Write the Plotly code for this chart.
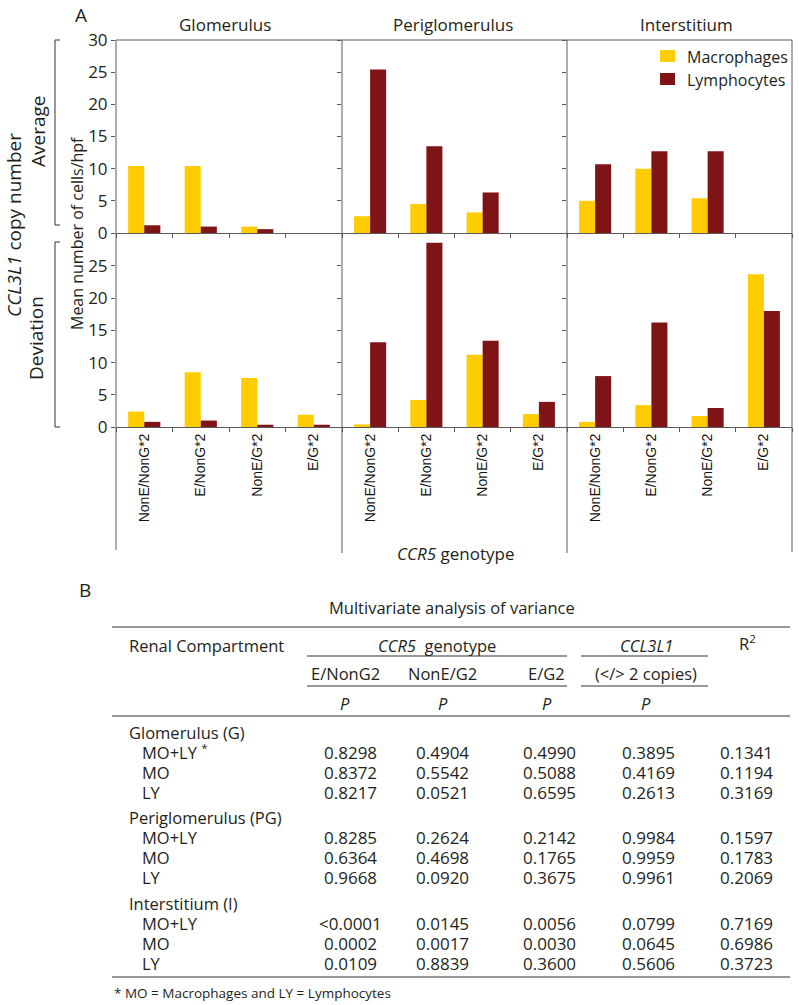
import plotly.graph_objects as go

W, H = 799, 1005

# ---------------- data ----------------
genotypes = ["NonE/NonG*2", "E/NonG*2", "NonE/G*2", "E/G*2"]
compartments = ["Glomerulus", "Periglomerulus", "Interstitium"]
series_names = ["Macrophages", "Lymphocytes"]

# CCL3L1 copy number: Average (top row) -- one list per compartment
avg_macrophages = [
    [10.4, 10.4, 1.0, None],
    [2.6, 4.5, 3.2, None],
    [5.0, 10.0, 5.4, None],
]
avg_lymphocytes = [
    [1.2, 1.0, 0.6, None],
    [25.4, 13.5, 6.3, None],
    [10.7, 12.7, 12.7, None],
]
# CCL3L1 copy number: Deviation (bottom row)
dev_macrophages = [
    [2.4, 8.5, 7.6, 1.9],
    [0.4, 4.2, 11.2, 2.0],
    [0.8, 3.4, 1.7, 23.7],
]
dev_lymphocytes = [
    [0.8, 1.0, 0.35, 0.35],
    [13.15, 28.6, 13.4, 3.9],
    [7.9, 16.2, 2.95, 18.0],
]
y_ticks_top = [0, 5, 10, 15, 20, 25, 30]
y_ticks_bottom = [0, 5, 10, 15, 20, 25]

# Table B
table_row_labels = ["Glomerulus (G)", "MO+LY <sup>*</sup>", "MO", "LY",
                    "Periglomerulus (PG)", "MO+LY", "MO", "LY",
                    "Interstitium (I)", "MO+LY", "MO", "LY"]
col_e_nong2 = ["", "0.8298", "0.8372", "0.8217", "", "0.8285", "0.6364", "0.9668", "", "&lt;0.0001", "0.0002", "0.0109"]
col_none_g2 = ["", "0.4904", "0.5542", "0.0521", "", "0.2624", "0.4698", "0.0920", "", "0.0145", "0.0017", "0.8839"]
col_e_g2 = ["", "0.4990", "0.5088", "0.6595", "", "0.2142", "0.1765", "0.3675", "", "0.0056", "0.0030", "0.3600"]
col_ccl3l1 = ["", "0.3895", "0.4169", "0.2613", "", "0.9984", "0.9959", "0.9961", "", "0.0799", "0.0645", "0.5606"]
col_r2 = ["", "0.1341", "0.1194", "0.3169", "", "0.1597", "0.1783", "0.2069", "", "0.7169", "0.6986", "0.3723"]

# ---------------- styling ----------------
YELLOW = "#FFCC00"
RED = "#7F1416"
INK = "#231F20"
LINE = "#5a5a5a"
FONT = "Open Sans"


def X(px):
    return px / W


def Y(py):
    return 1 - py / H


panel_x = [(116, 342), (342, 567), (567, 792)]
top_y = (40, 233)
bot_y = (233, 427)

fig = go.Figure()
for i, comp in enumerate(compartments):
    for row, (mac, lym) in enumerate([(avg_macrophages, avg_lymphocytes), (dev_macrophages, dev_lymphocytes)]):
        n = i + 1 + 3 * row
        fig.add_trace(go.Bar(x=genotypes, y=mac[i], name=series_names[0], marker=dict(color=YELLOW, line=dict(width=0)),
                             xaxis=f"x{n}", yaxis=f"y{n}", showlegend=False))
        fig.add_trace(go.Bar(x=genotypes, y=lym[i], name=series_names[1], marker=dict(color=RED, line=dict(width=0)),
                             xaxis=f"x{n}", yaxis=f"y{n}", showlegend=False))

layout_axes = {}
for row in range(2):
    for i in range(3):
        n = i + 1 + 3 * row
        key = "" if n == 1 else str(n)
        x0, x1 = panel_x[i]
        yy = top_y if row == 0 else bot_y
        layout_axes["xaxis" + key] = dict(
            domain=[X(x0), X(x1)], anchor="y" + key, type="category", automargin=False,
            categoryorder="array", categoryarray=genotypes, range=[-0.5, 3.5],
            showline=True, linecolor=LINE, linewidth=1, ticks="outside", tickson="boundaries",
            ticklen=4, tickcolor=LINE, showgrid=False, zeroline=False,
            showticklabels=(row == 1), tickangle=-90,
            tickfont=dict(family="Liberation Sans", size=14, color="#111"),
        )
        layout_axes["yaxis" + key] = dict(
            domain=[Y(yy[1]), Y(yy[0])], anchor="x" + key, automargin=False,
            range=[0, 30] if row == 0 else [0, 30.1],
            tickvals=y_ticks_top if row == 0 else y_ticks_bottom,
            showticklabels=(i == 0), ticks="outside", ticklen=4, tickcolor=LINE,
            showline=False, showgrid=False, zeroline=False,
            tickfont=dict(family=FONT, size=17, color=INK),
        )

shapes = []


def hline(x0, x1, y, w=1, color=LINE):
    shapes.append(dict(type="line", xref="paper", yref="paper", x0=X(x0), x1=X(x1), y0=Y(y), y1=Y(y),
                       line=dict(color=color, width=w)))


def vline(x, y0, y1, w=1, color=LINE):
    shapes.append(dict(type="line", xref="paper", yref="paper", x0=X(x), x1=X(x), y0=Y(y0), y1=Y(y1),
                       line=dict(color=color, width=w)))


# chart frame
hline(116, 792, 40)
vline(116, 40, 550)
vline(342, 40, 553)
vline(567, 40, 553)
vline(792, 40, 552)
# brackets
for (b0, b1) in [(40, 225), (242, 427)]:
    vline(55, b0, b1, color="#333")
    hline(55, 60, b0, color="#333")
    hline(55, 60, b1, color="#333")

# table lines
TL = "#333"
hline(112, 790, 627, 1.2, TL)
hline(307, 567, 656, 1.2, TL)
hline(581, 708, 656, 1.2, TL)
hline(307, 567, 686, 1.2, TL)
hline(581, 708, 686, 1.2, TL)
hline(112, 790, 716, 1.2, TL)
hline(112, 790, 977, 1.2, TL)

ann = []


def text(x, y, s, size=16.5, xanchor="center", angle=0, family=FONT, color=INK):
    ann.append(dict(x=X(x), y=Y(y), xref="paper", yref="paper", text=s, showarrow=False,
                    xanchor=xanchor, yanchor="middle", textangle=angle, borderpad=0,
                    font=dict(family=family, size=size, color=color)))


# legend (keys + labels)
for k, (name, col) in enumerate(zip(series_names, [YELLOW, RED])):
    cy = 56 + 23 * k
    shapes.append(dict(type="rect", xref="paper", yref="paper", x0=X(660), x1=X(675),
                       y0=Y(cy - 6), y1=Y(cy + 6), fillcolor=col, line=dict(width=0)))
    text(686, cy + 1, name, size=16, xanchor="left")

text(81, 15, "A", size=19)
for cx, name in zip([225, 453, 686], compartments):
    text(cx, 25, name, size=17)
text(38, 132, "Average", size=19, angle=-90)
text(36, 338, "Deviation", size=19, angle=-90)
text(14, 225, "<i>CCL3L1</i> copy number", size=19, angle=-90)
text(77, 233, "Mean number of cells/hpf", size=16, angle=-90)
text(455, 553, "<i>CCR5</i> genotype", size=17)

# Table B
text(85, 590, "B", size=19)
text(452, 607, "Multivariate analysis of variance")
text(128, 645, "Renal Compartment", xanchor="left")
text(437, 645, "<i>CCR5</i>  genotype")
text(646, 645, "<i>CCL3L1</i>")
text(747, 643, "R<sup>2</sup>")
for cx, s in zip([345, 443, 546, 646], ["E/NonG2", "NonE/G2", "E/G2", "(&lt;/&gt; 2 copies)"]):
    text(cx, 673, s)
for cx in [345, 443, 547, 646]:
    text(cx, 703, "<i>P</i>")

row_y = []
for g, base in enumerate([732, 817, 903]):
    for k in range(4):
        row_y.append(base + 20 * k)
for r, lab in enumerate(table_row_labels):
    text(128 if r % 4 == 0 else 141, row_y[r], lab, xanchor="left")
for cx, col in zip([350, 442, 549, 648, 746], [col_e_nong2, col_none_g2, col_e_g2, col_ccl3l1, col_r2]):
    for r, v in enumerate(col):
        if v:
            text(cx, row_y[r], v, size=17)
text(113, 993, "* MO = Macrophages and LY = Lymphocytes", size=13.5, xanchor="left")

fig.update_layout(
    width=W, height=H, margin=dict(l=0, r=0, t=0, b=0, pad=0, autoexpand=False),
    paper_bgcolor="white", plot_bgcolor="white",
    barmode="group", bargap=0.43, bargroupgap=0,
    font=dict(family=FONT, color=INK),
    showlegend=False,
    shapes=shapes, annotations=ann,
    **layout_axes,
)

fig.write_html("out.html", config={"displayModeBar": False},
               post_script="document.body.style.margin='0';")
